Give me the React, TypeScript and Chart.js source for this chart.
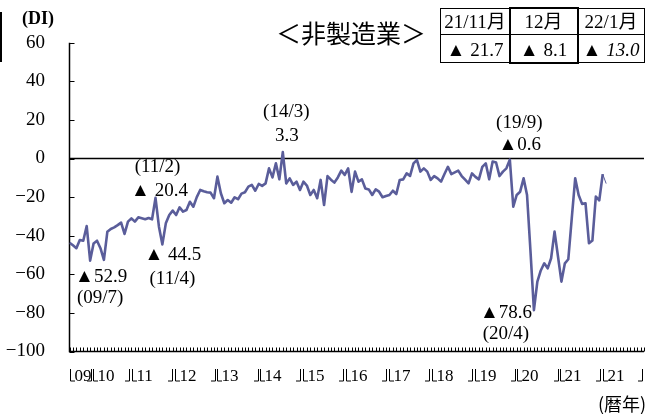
import React, { useEffect, useRef } from "react";
import { Chart, registerables } from "chart.js";

Chart.register(...registerables);

// Monthly non-manufacturing DI, 2009/1 .. 2021/12
const nonMfgDI = [
  -43.6, -45, -46.5, -42.2, -42.6, -35, -52.9, -44, -42.6, -46.5, -52.5, -38,
  -36.5, -35.7, -34.5, -33.2, -39.1, -32.7, -31, -32.7, -30.5, -31, -31.5, -30.8,
  -31.5, -20.4, -35.3, -44.5, -33.6, -29.3, -27, -29.3, -25.3, -27.5, -26.7, -22.4,
  -25, -20, -16.3, -17, -17.5, -17.7, -20.6, -9.4, -18, -23.2, -21.5, -22.9,
  -20.1, -21.1, -18.2, -17.5, -14.6, -13.7, -16.7, -13.2, -14.2, -12.9, -5.1, -9.8,
  -2.5, -10.8, 3.3, -12.9, -10.3, -13.7, -12, -16.3, -12, -14, -18.9, -16.3,
  -20.6, -11.1, -24.1, -9.1, -11, -12.5, -9.8, -6.3, -8.5, -5.1, -17.3, -6.8,
  -12, -10.8, -15.5, -16, -18.9, -16, -17.2, -20.1, -19.4, -18.9, -16.7, -18.4,
  -11.1, -10.8, -7.7, -9, -2.5, -0.8, -6.8, -5.1, -6.8, -11.1, -9.1, -10.3,
  -12, -8, -4.3, -8.1, -7.2, -6.3, -9.1, -11, -12.9, -7.7, -9.5, -10.8,
  -4.3, -2.5, -10.8, -1.6, -2.1, -9.1, -6.8, -5.1, -0.6, -25, -18.9, -17.2,
  -10.3, -18.9, -48, -78.6, -63.8, -58, -54.3, -56.9, -51.7, -37.9, -50.8, -63.8,
  -54.3, -52.2, -31, -10.3, -18.9, -23.5, -23.2, -43.9, -42.5, -19.7, -21.7, -8.1,
];
// 21/12 actual -> 22/1 forecast
const forecastDI = [-8.1, -13.0];

const axisMonths = 168; // 2009/1 .. 2022/12
const yearTickLabels = ["09", "10", "11", "12", "13", "14", "15", "16", "17", "18", "19", "20", "21", "21"];
const yTickValues = [60, 40, 20, 0, -20, -40, -60, -80, -100];

const annotMonthIdx = [6, 25, 27, 62, 128, 135];
const annotValueLabels = ["▲52.9", "▲ 20.4", "▲ 44.5", "3.3", "▲0.6", "▲78.6"];
const annotDateLabels = ["(09/7)", "(11/2)", "(11/4)", "(14/3)", "(19/9)", "(20/4)"];

const tableMonths = ["21/11月", "12月", "22/1月"];
const tableValues = ["21.7", "8.1", "13.0"];

const SERIF = "'Liberation Serif', 'Noto Sans CJK JP', serif";
const LINE_COLOR = "#5a5d9a";

// label offsets relative to the annotated point: [valueDx, valueDy, dateDx, dateDy]
const annotOffsets = [
  [11, 16, 10, 37.5],
  [4, -7, 2, -30.5],
  [10.5, 10.5, 10, 35],
  [4, -16, 3.5, -40],
  [10, -14.5, 9.5, -37],
  [-28, 3, -28, 23.5],
];

// bracket slot (in month units on the x scale) for each year label
const slotStart = (k: number) => (k === 0 ? 0.15 : k === 1 ? 6.92 : 18.08 + (k - 2) * 12.46);
const slotEnd = (k: number) =>
  k < yearTickLabels.length - 1 ? slotStart(k + 1) - 0.8 : slotStart(k) + 11.2;

const decorPlugin = {
  id: "decor",
  beforeDatasetsDraw(chart: any) {
    const { ctx, chartArea, scales } = chart;
    const { left, right, top, bottom } = chartArea;
    const x = scales.x;
    const y = scales.y;
    ctx.save();
    ctx.strokeStyle = "#000";
    ctx.lineWidth = 1.5;
    const y0 = y.getPixelForValue(0);
    ctx.beginPath();
    ctx.moveTo(left, y0);
    ctx.lineTo(right, y0);
    ctx.stroke();
    ctx.beginPath();
    ctx.moveTo(left, top);
    ctx.lineTo(left, bottom);
    ctx.lineTo(right, bottom);
    ctx.stroke();
    ctx.lineWidth = 1;
    ctx.beginPath();
    yTickValues.forEach((v) => {
      const py = Math.round(y.getPixelForValue(v)) + 0.5;
      ctx.moveTo(left, py);
      ctx.lineTo(left + 5, py);
    });
    for (let i = 0; i < axisMonths; i++) {
      const px = Math.round(x.getPixelForValue(i)) + 0.5;
      ctx.moveTo(px, bottom);
      ctx.lineTo(px, bottom - 4);
    }
    ctx.stroke();

    // year labels with bracket marks
    const base = bottom + 29.5;
    const topB = base - 12;
    ctx.font = `17px ${SERIF}`;
    ctx.fillStyle = "#000";
    ctx.textAlign = "left";
    ctx.textBaseline = "alphabetic";
    ctx.lineWidth = 1;
    ctx.beginPath();
    yearTickLabels.forEach((lab, k) => {
      const L = Math.round(x.getPixelForValue(slotStart(k))) + 0.5;
      const R = Math.round(x.getPixelForValue(slotEnd(k))) + 0.5;
      ctx.fillText(lab, L + 4, base);
      ctx.moveTo(L, topB);
      ctx.lineTo(L, base);
      ctx.lineTo(L + 4.5, base);
      ctx.moveTo(R - 4.5, base);
      ctx.lineTo(R, base);
      ctx.lineTo(R, topB);
    });
    ctx.stroke();
    ctx.restore();
  },
  afterDatasetsDraw(chart: any) {
    const { ctx, scales } = chart;
    const x = scales.x;
    const y = scales.y;
    ctx.save();
    ctx.fillStyle = "#000";
    ctx.font = `19px ${SERIF}`;
    ctx.textAlign = "center";
    ctx.textBaseline = "middle";
    annotMonthIdx.forEach((mi, k) => {
      const px = x.getPixelForValue(mi);
      const py = y.getPixelForValue(nonMfgDI[mi]);
      const o = annotOffsets[k];
      ctx.fillText(annotValueLabels[k], px + o[0], py + o[1]);
      ctx.fillText(annotDateLabels[k], px + o[2], py + o[3]);
    });
    ctx.restore();
  },
};

export default function App() {
  const ref = useRef<HTMLCanvasElement>(null);

  useEffect(() => {
    const canvas = ref.current;
    if (!canvas) return;
    const mainPts = nonMfgDI.map((v, i) => ({ x: i, y: v }));
    const fcPts = forecastDI.map((v, j) => ({ x: nonMfgDI.length - 1 + j, y: v }));
    const chart = new Chart(canvas, {
      type: "line",
      data: {
        datasets: [
          {
            data: mainPts,
            borderColor: LINE_COLOR,
            borderWidth: 2.6,
            pointRadius: 0,
            tension: 0,
            borderJoinStyle: "round",
            fill: false,
          },
          {
            data: fcPts,
            borderColor: LINE_COLOR,
            borderWidth: 1,
            pointRadius: 0,
            tension: 0,
            fill: false,
          },
        ],
      },
      options: {
        responsive: false,
        animation: false,
        layout: { padding: { left: 0, right: 17, top: 42.7, bottom: 0 } },
        plugins: { legend: { display: false }, tooltip: { enabled: false }, title: { display: false } },
        scales: {
          x: {
            type: "linear",
            min: 0,
            max: axisMonths - 1,
            grid: { display: false, drawTicks: false },
            border: { display: false },
            afterFit: (s: any) => {
              s.height = 62.5;
            },
            ticks: { display: false },
          },
          y: {
            min: -100,
            max: 60,
            grid: { display: false, drawTicks: false },
            border: { display: false },
            afterBuildTicks: (s: any) => {
              s.ticks = yTickValues.map((v) => ({ value: v }));
            },
            afterFit: (s: any) => {
              s.width = 69.5;
            },
            ticks: {
              padding: 24.5,
              color: "#000",
              font: { family: SERIF, size: 19 },
              callback: (v: any) => (v < 0 ? "−" + Math.abs(v) : String(v)),
            },
          },
        },
      },
      plugins: [decorPlugin],
    });
    return () => chart.destroy();
  }, []);

  const abs = (l: number, t: number, extra: any = {}) => ({
    position: "absolute" as const,
    left: l,
    top: t,
    ...extra,
  });
  const centered = (cx: number, cy: number, font: string, extra: any = {}) => ({
    position: "absolute" as const,
    left: cx,
    top: cy,
    transform: "translate(-50%, -50%)",
    font,
    lineHeight: 1,
    whiteSpace: "nowrap" as const,
    color: "#000",
    ...extra,
  });

  const colCx = [475, 543.5, 611];

  return (
    <div style={{ position: "absolute", left: 0, top: 0, width: 661, height: 414, background: "#fff", overflow: "hidden" }}>
      <canvas ref={ref} width={661} height={414} style={{ position: "absolute", left: 0, top: 0, width: 661, height: 414 }} />
      <div style={abs(0, 12, { width: 1.5, height: 50, background: "#000" })} />
      <div style={centered(38, 18, `bold 18px ${SERIF}`)}>(DI)</div>
      <div style={centered(351, 32, "25px 'Noto Sans CJK JP', sans-serif")}>＜非製造業＞</div>
      <div style={centered(622, 403, `18px 'Noto Sans CJK JP', sans-serif`)}>(暦年)</div>
      <div style={abs(440, 8, { width: 205, height: 55, border: "1px solid #000", boxSizing: "border-box" })} />
      <div style={abs(440, 33.5, { width: 205, height: 1, background: "#000" })} />
      <div style={abs(508.5, 7, { width: 70, height: 57, border: "2.5px solid #000", boxSizing: "border-box" })} />
      {tableMonths.map((m, k) => (
        <div key={"m" + k} style={centered(colCx[k], 21, `19px ${SERIF}`)}>
          {m}
        </div>
      ))}
      {tableValues.map((v, k) => (
        <div key={"v" + k} style={centered(colCx[k], 48.5, `19px ${SERIF}`)}>
          ▲ <span style={{ fontStyle: k === 2 ? "italic" : "normal" }}>{v}</span>
        </div>
      ))}
    </div>
  );
}
